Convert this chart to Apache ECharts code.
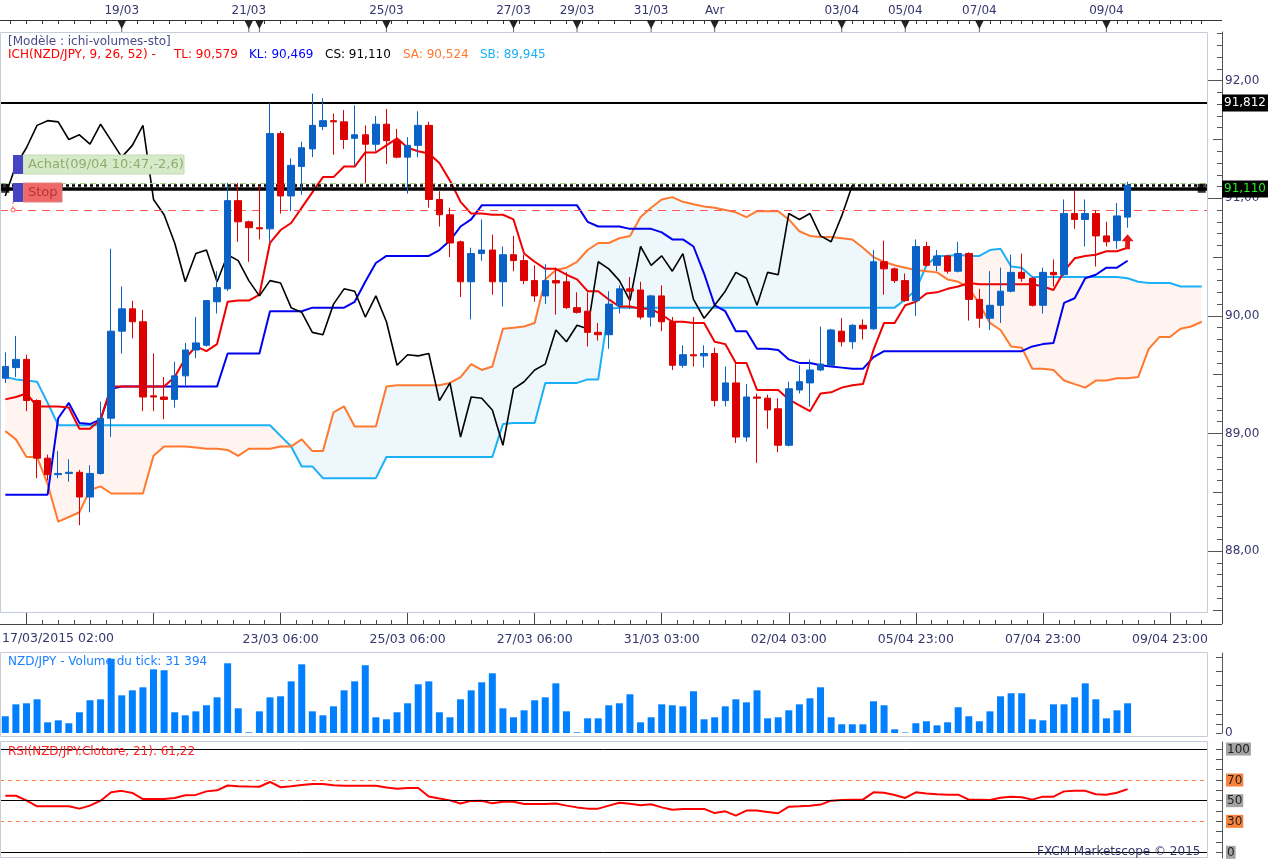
<!DOCTYPE html>
<html><head><meta charset="utf-8">
<script src="https://cdn.jsdelivr.net/npm/echarts@6/dist/echarts.min.js"></script>
<style>html,body{margin:0;padding:0;background:#fff}#c{width:1279px;height:860px}</style>
</head><body><div id="c"></div><script>
// ---- data (4H candles, NZD/JPY) ----
const OPEN=[89.47,89.56,89.63,89.28,88.79,88.65,88.66,88.67,88.46,88.66,
89.13,89.87,90.06,89.95,89.32,89.31,89.29,89.49,89.71,89.75,
90.12,90.23,90.98,90.80,90.75,90.74,91.55,91.02,91.27,91.42,
91.61,91.66,91.65,91.51,91.54,91.46,91.63,91.49,91.35,91.45,
91.62,90.99,90.86,90.63,90.29,90.53,90.56,90.29,90.52,90.47,
90.30,90.17,90.30,90.29,90.07,90.04,89.86,89.84,90.09,90.23,
90.22,89.99,90.17,89.95,89.58,89.67,89.66,89.68,89.28,89.43,
88.97,89.31,89.30,89.21,88.90,89.37,89.43,89.54,89.58,89.87,
89.78,89.92,89.89,90.46,90.40,90.30,90.13,90.59,90.43,90.51,
90.38,90.53,90.14,89.98,90.09,90.21,90.37,90.32,90.09,90.37,
90.35,90.87,90.82,90.87,90.68,90.64,90.84];
const HIGH=[89.69,89.83,89.67,89.29,88.82,88.85,88.78,88.69,88.73,89.27,
90.57,90.25,90.13,90.05,89.68,89.48,89.61,89.77,89.99,90.13,
90.38,91.13,91.13,90.81,91.11,91.81,91.57,91.34,91.48,91.89,
91.85,91.72,91.75,91.79,91.62,91.70,91.76,91.59,91.52,91.74,
91.65,91.06,90.92,90.64,90.58,90.82,90.69,90.59,90.68,90.52,
90.43,90.44,90.41,90.37,90.20,90.20,89.94,90.21,90.26,90.33,
90.29,90.18,90.26,89.99,89.75,89.99,89.75,89.73,89.57,89.60,
89.42,89.34,89.33,89.30,89.44,89.58,89.63,89.91,89.89,89.98,
89.93,89.97,90.56,90.64,90.41,90.36,90.65,90.63,90.56,90.52,
90.63,90.54,90.23,90.38,90.41,90.52,90.53,90.33,90.41,90.48,
90.99,91.07,90.99,90.90,90.80,90.96,91.14];
const LOW=[89.43,89.48,89.19,88.62,88.60,88.62,88.59,88.22,88.33,88.65,
88.97,89.68,89.81,89.19,89.19,89.12,89.22,89.41,89.64,89.74,
90.02,90.21,90.63,90.46,90.65,90.63,90.87,90.89,91.03,91.35,
91.58,91.37,91.42,91.28,91.13,91.40,91.29,91.34,91.04,91.35,
90.92,90.76,90.50,90.16,89.97,90.47,90.18,90.08,90.38,90.27,
90.12,90.10,90.01,90.06,90.02,89.74,89.79,89.72,90.02,90.06,
89.97,89.91,89.87,89.54,89.56,89.57,89.56,89.23,89.23,88.92,
88.93,88.75,89.04,88.84,88.89,89.34,89.23,89.53,89.57,89.74,
89.72,89.80,89.88,90.18,90.28,90.12,90.00,90.42,90.38,90.36,
90.37,89.96,89.90,89.88,89.94,90.20,90.29,90.08,90.02,90.25,
90.34,90.74,90.59,90.42,90.59,90.57,90.75];
const CLOSE=[89.57,89.63,89.28,88.79,88.65,88.66,88.67,88.46,88.66,89.13,
89.87,90.06,89.95,89.31,89.31,89.29,89.49,89.71,89.77,90.13,
90.24,90.98,90.80,90.75,90.74,91.55,91.02,91.28,91.43,91.62,
91.66,91.65,91.50,91.54,91.46,91.63,91.49,91.35,91.45,91.62,
90.99,90.86,90.62,90.29,90.53,90.56,90.29,90.52,90.47,90.30,
90.17,90.30,90.28,90.07,90.03,89.86,89.84,90.10,90.23,90.21,
89.99,90.17,89.95,89.58,89.67,89.66,89.68,89.28,89.43,88.97,
89.31,89.30,89.20,88.90,89.38,89.44,89.54,89.59,89.88,89.78,
89.92,89.89,90.46,90.40,90.30,90.13,90.59,90.43,90.51,90.38,
90.53,90.14,89.98,90.09,90.21,90.37,90.32,90.09,90.37,90.35,
90.87,90.82,90.87,90.68,90.63,90.85,91.11];
// Ichimoku lines
const TL=[89.29,89.31,89.34,89.23,89.23,89.23,89.22,89.04,89.04,89.12,
89.40,89.40,89.40,89.40,89.40,89.40,89.48,89.64,89.74,89.70,
89.76,90.12,90.13,90.13,90.18,90.62,90.73,90.79,90.92,91.05,
91.18,91.18,91.27,91.27,91.39,91.39,91.45,91.51,91.43,91.40,
91.38,91.30,91.15,90.97,90.87,90.87,90.86,90.86,90.82,90.53,
90.46,90.40,90.40,90.35,90.31,90.21,90.21,90.14,90.08,90.08,
90.06,90.06,90.01,89.95,89.95,89.94,89.94,89.78,89.76,89.60,
89.60,89.37,89.37,89.37,89.29,89.24,89.19,89.34,89.35,89.39,
89.41,89.42,89.71,89.94,89.94,90.09,90.12,90.19,90.20,90.23,
90.25,90.28,90.27,90.27,90.27,90.27,90.27,90.27,90.25,90.22,
90.38,90.49,90.51,90.52,90.55,90.55,90.579];
const KL=[88.48,88.48,88.48,88.48,88.48,89.13,89.26,89.09,89.08,89.12,
89.38,89.40,89.40,89.40,89.40,89.40,89.40,89.40,89.40,89.40,
89.40,89.68,89.68,89.68,89.68,90.04,90.04,90.04,90.04,90.07,
90.07,90.07,90.07,90.12,90.29,90.45,90.51,90.51,90.51,90.51,
90.51,90.56,90.64,90.76,90.82,90.94,90.94,90.94,90.94,90.94,
90.94,90.94,90.94,90.94,90.94,90.80,90.76,90.76,90.76,90.74,
90.74,90.74,90.71,90.65,90.65,90.59,90.36,90.09,90.04,89.87,
89.87,89.72,89.72,89.71,89.63,89.60,89.60,89.58,89.57,89.56,
89.55,89.55,89.65,89.70,89.70,89.70,89.70,89.70,89.70,89.70,
89.70,89.70,89.70,89.70,89.70,89.70,89.70,89.74,89.76,89.77,
90.11,90.15,90.32,90.35,90.41,90.41,90.469];
const CS=[91.02,91.28,91.43,91.62,91.66,91.65,91.50,91.54,91.46,91.63,
91.49,91.35,91.45,91.62,90.99,90.86,90.62,90.29,90.53,90.56,
90.29,90.52,90.47,90.30,90.17,90.30,90.28,90.07,90.03,89.86,
89.84,90.10,90.23,90.21,89.99,90.17,89.95,89.58,89.67,89.66,
89.68,89.28,89.43,88.97,89.31,89.30,89.20,88.90,89.38,89.44,
89.54,89.59,89.88,89.78,89.92,89.89,90.46,90.40,90.30,90.13,
90.59,90.43,90.51,90.38,90.53,90.14,89.98,90.09,90.21,90.37,
90.32,90.09,90.37,90.35,90.87,90.82,90.87,90.68,90.63,90.85,
91.11];
const SA=[89.02,88.95,88.80,88.80,88.57,88.25,88.29,88.33,88.52,88.55,
88.49,88.49,88.49,88.49,88.81,88.89,88.89,88.89,88.88,88.87,
88.87,88.86,88.81,88.87,88.87,88.87,88.89,88.89,88.95,88.85,
88.85,89.18,89.23,89.06,89.06,89.06,89.40,89.41,89.41,89.41,
89.41,89.41,89.43,89.48,89.59,89.54,89.57,89.89,89.90,89.91,
89.94,90.31,90.39,90.41,90.46,90.56,90.62,90.62,90.66,90.68,
90.84,90.92,90.99,91.01,90.97,90.95,90.93,90.92,90.90,90.88,
90.84,90.89,90.89,90.89,90.82,90.72,90.68,90.67,90.67,90.66,
90.65,90.58,90.50,90.46,90.43,90.41,90.39,90.38,90.37,90.31,
90.29,90.24,90.10,89.94,89.88,89.74,89.73,89.55,89.55,89.54,
89.45,89.42,89.39,89.45,89.45,89.47,89.47,89.48,89.72,89.82,
89.82,89.89,89.91,89.95];
const SB=[89.48,89.46,89.45,89.44,89.26,89.07,89.07,89.07,89.07,89.07,
89.07,89.07,89.07,89.07,89.07,89.07,89.07,89.07,89.07,89.07,
89.07,89.07,89.07,89.07,89.07,89.07,88.98,88.89,88.72,88.72,
88.62,88.62,88.62,88.62,88.62,88.62,88.80,88.80,88.80,88.80,
88.80,88.80,88.80,88.80,88.80,88.80,88.80,89.08,89.09,89.09,
89.09,89.43,89.43,89.43,89.43,89.46,89.46,90.06,90.07,90.07,
90.07,90.07,90.07,90.07,90.07,90.07,90.07,90.07,90.07,90.07,
90.07,90.07,90.07,90.07,90.07,90.07,90.07,90.07,90.07,90.07,
90.07,90.07,90.07,90.07,90.07,90.14,90.22,90.43,90.51,90.51,
90.52,90.51,90.51,90.56,90.57,90.42,90.41,90.33,90.33,90.33,
90.33,90.33,90.33,90.33,90.33,90.33,90.32,90.29,90.28,90.28,
90.28,90.25,90.25,90.25];
const VOLUME=[17700,30300,31400,35600,11300,13400,10300,21900,34600,35600,
78500,39800,45100,48300,67300,66300,21900,18700,22900,29300,
37700,73700,26100,700,22900,37700,38800,54600,72600,22900,
18700,28200,45100,54600,71600,16600,14500,21900,31400,51500,
54600,21900,16600,35600,45100,53600,63100,26100,16600,24000,
34600,37700,52500,22900,700,15500,15500,29300,31400,40900,
11300,16600,30300,29300,28200,44100,14500,16600,28200,35600,
32400,45100,15500,16600,24000,30300,36700,48300,16600,9200,
9200,9200,33500,29300,3900,500,10300,12400,8100,11300,
27200,17700,12400,22900,38800,42000,42000,14500,13400,30300,
30300,37700,52500,35600,15500,24000,31394];
const RSI=[54.8,54.8,50.3,44.5,44.5,44.5,44.5,42.3,45.2,50.0,
58.1,59.5,57.5,51.6,51.6,51.6,52.6,55.2,55.6,59.0,
60.0,64.7,64.0,63.7,63.5,68.1,63.0,64.0,65.1,66.1,
66.1,65.0,64.5,64.5,64.5,64.5,62.8,61.6,62.2,62.2,
54.0,52.0,50.3,47.2,49.8,50.0,47.4,49.0,49.0,46.7,
46.7,46.7,47.3,45.2,43.5,42.3,42.3,45.2,48.0,47.0,
45.5,46.5,43.5,41.3,42.0,42.0,42.0,38.0,39.7,35.5,
40.4,40.4,39.1,37.8,44.2,44.5,45.0,46.2,50.0,50.6,
51.0,51.0,58.1,57.7,55.5,52.6,58.1,57.0,56.1,55.8,
55.8,51.0,50.8,50.6,52.8,53.7,53.3,51.0,53.9,53.9,
59.0,59.7,59.5,56.2,55.8,57.7,61.22];
// horizontal levels
const LEVEL_HIGH=91.812, LEVEL_ENTRY=91.085, LEVEL_CS=91.113, LEVEL_GREEN=91.133, LEVEL_RED=90.898;
// tick labels
const TOP_LABELS={11:'19/03',23:'21/03',36:'25/03',48:'27/03',54:'29/03',61:'31/03',67:'Avr',79:'03/04',85:'05/04',92:'07/04',104:'09/04'};
const TOP_MARKS=[11,23,24,36,48,54,61,67,79,85,92,104];
const BOTTOM_LABELS={26:'23/03 06:00',38:'25/03 06:00',50:'27/03 06:00',62:'31/03 03:00',74:'02/04 03:00',86:'05/04 23:00',98:'07/04 23:00',110:'09/04 23:00'};
const BOTTOM_MAJOR=[2,14,26,38,50,62,74,86,98,110];
const PRICE_LABELS=[88,89,90,91,92];
const RSI_LABELS=[0,30,50,70,100];

// ---- build ----
const NSLOT=114;
const CATS=[]; for(let i=0;i<NSLOT;i++) CATS.push(String(i));
const CANDLES=OPEN.map((o,i)=>[o,CLOSE[i],LOW[i],HIGH[i]]);
const CLOUD_BASE=SA.map((a,i)=>Math.min(a,SB[i]));
const CLOUD_BULL=SA.map((a,i)=>a>SB[i]?+(a-SB[i]).toFixed(3):0);
const CLOUD_BEAR=SA.map((a,i)=>SB[i]>a?+(SB[i]-a).toFixed(3):0);
const topTicks=[]; for(let v=0.5;v<60;v+=1.5) topTicks.push(v); for(let v=61;v<=113;v++) topTicks.push(v);
const botMinor=[]; for(let v=2;v<=113;v+=1.5) botMinor.push(v);
const priceHalf=[87.5,88.5,89.5,90.5,91.5];
const priceTenth=[]; for(let k=875;k<=924;k++) priceTenth.push(k/10);
const rsiTicks=[0,10,20,30,40,50,60,70,80,90,100];

const FONT='"DejaVu Sans", Verdana, sans-serif';
const NAVY='#36366e';
const chart=echarts.init(document.getElementById('c'));
const XMIN=-0.5, XMAX=NSLOT-0.5;
function decoX(extra){return Object.assign({type:'value',gridIndex:0,min:XMIN,max:XMAX,splitLine:{show:false},axisLine:{onZero:false}},extra);}
const noAxis={show:false};
chart.setOption({
  animation:false,
  backgroundColor:'#ffffff',
  textStyle:{fontFamily:FONT},
  grid:[
    {left:0,top:32,width:1207,height:580},
    {left:0,top:653,width:1207,height:80},
    {left:0,top:742,width:1207,height:116}
  ],
  xAxis:[
    {type:'category',gridIndex:0,data:CATS,boundaryGap:true,show:false},
    {type:'category',gridIndex:1,data:CATS,boundaryGap:true,show:false},
    {type:'category',gridIndex:2,data:CATS,boundaryGap:true,show:false},
    decoX({position:'top',offset:12,
      axisLine:{show:true,onZero:false,lineStyle:{color:'#333',width:1}},
      axisTick:{show:true,inside:true,length:4,customValues:topTicks,lineStyle:{color:'#333'}},
      axisLabel:{show:true,customValues:Object.keys(TOP_LABELS).map(Number),formatter:v=>TOP_LABELS[v]||'',color:NAVY,fontSize:12,margin:3}}),
    decoX({position:'bottom',offset:12,
      axisLine:{show:true,onZero:false,lineStyle:{color:'#444',width:1}},
      axisTick:{show:true,inside:true,length:12,customValues:BOTTOM_MAJOR,lineStyle:{color:'#444'}},
      axisLabel:{show:true,customValues:Object.keys(BOTTOM_LABELS).map(Number),formatter:v=>BOTTOM_LABELS[v]||'',color:NAVY,fontSize:12.5,margin:9}}),
    decoX({position:'bottom',offset:12,
      axisLine:{show:false,onZero:false},
      axisTick:{show:true,inside:true,length:4,customValues:botMinor,lineStyle:{color:'#444'}},
      axisLabel:{show:false}})
  ],
  yAxis:[
    {type:'value',gridIndex:0,position:'right',offset:15,min:87.482,max:92.414,scale:true,splitLine:{show:false},
      axisLine:{show:true,onZero:false,lineStyle:{color:'#555'}},
      axisTick:{show:true,inside:true,length:14,customValues:PRICE_LABELS,lineStyle:{color:'#555'}},
      axisLabel:{show:true,customValues:PRICE_LABELS,formatter:v=>v.toFixed(2).replace('.',','),color:NAVY,fontSize:12,margin:3}},
    {type:'value',gridIndex:0,position:'right',offset:15,min:87.482,max:92.414,scale:true,splitLine:{show:false},
      axisLine:{show:false,onZero:false},
      axisTick:{show:true,inside:true,length:9,customValues:priceHalf,lineStyle:{color:'#555'}},axisLabel:{show:false}},
    {type:'value',gridIndex:0,position:'right',offset:15,min:87.482,max:92.414,scale:true,splitLine:{show:false},
      axisLine:{show:false,onZero:false},
      axisTick:{show:true,inside:true,length:5,customValues:priceTenth,lineStyle:{color:'#555'}},axisLabel:{show:false}},
    {type:'value',gridIndex:1,position:'right',offset:15,min:0,max:84560,splitLine:{show:false},
      axisLine:{show:true,onZero:false,lineStyle:{color:'#555'}},
      axisTick:{show:true,inside:true,length:6,customValues:[0,9000,20000,35000,50000,65000,80000],lineStyle:{color:'#555'}},
      axisLabel:{show:true,customValues:[0],formatter:v=>String(v),color:NAVY,fontSize:12,margin:3}},
    {type:'value',gridIndex:2,position:'right',offset:15,min:-5.5,max:106.8,splitLine:{show:false},
      axisLine:{show:true,onZero:false,lineStyle:{color:'#555'}},
      axisTick:{show:true,inside:true,length:6,customValues:rsiTicks,lineStyle:{color:'#555'}},
      axisLabel:{show:true,customValues:RSI_LABELS,margin:4,fontSize:12,
        formatter:v=>((v===30||v===70)?'{o|'+v+'}':'{g|'+v+'}'),
        rich:{g:{backgroundColor:'#a3a3a3',color:'#222',padding:[1,1,0,1],fontSize:12},
              o:{backgroundColor:'#f7823c',color:'#222',padding:[1,1,0,1],fontSize:12}}}}
  ],
  series:[
    {type:'line',xAxisIndex:0,yAxisIndex:0,data:CLOUD_BASE,stack:'cloud',symbol:'none',silent:true,lineStyle:{opacity:0},z:1},
    {type:'line',xAxisIndex:0,yAxisIndex:0,data:CLOUD_BULL,stack:'cloud',symbol:'none',silent:true,lineStyle:{opacity:0},areaStyle:{color:'#eef7fc',opacity:1},z:1},
    {type:'line',xAxisIndex:0,yAxisIndex:0,data:CLOUD_BEAR,stack:'cloud',symbol:'none',silent:true,lineStyle:{opacity:0},areaStyle:{color:'#fff4f0',opacity:1},z:1},
    {name:'SB',type:'line',xAxisIndex:0,yAxisIndex:0,data:SB,symbol:'none',lineStyle:{color:'#1cb0f6',width:2},z:2},
    {name:'SA',type:'line',xAxisIndex:0,yAxisIndex:0,data:SA,symbol:'none',lineStyle:{color:'#ff7a30',width:2},z:2},
    {name:'KL',type:'line',xAxisIndex:0,yAxisIndex:0,data:KL,symbol:'none',lineStyle:{color:'#0000f0',width:2},z:3},
    {name:'TL',type:'line',xAxisIndex:0,yAxisIndex:0,data:TL,symbol:'none',lineStyle:{color:'#f00000',width:2},z:3},
    {name:'CS',type:'line',xAxisIndex:0,yAxisIndex:0,data:CS,symbol:'none',lineStyle:{color:'#000',width:1.6},z:3,
      markLine:{symbol:'none',silent:true,animation:false,
        data:[
          {yAxis:LEVEL_HIGH,lineStyle:{color:'#000',width:2,type:'solid'},
            label:{show:true,position:'end',distance:15,formatter:'91,812',color:'#fff',backgroundColor:'#000',padding:[3,2,2,2],fontSize:12}},
          {yAxis:LEVEL_GREEN,lineStyle:{color:'#a6cf88',width:1,type:[6,4]},label:{show:false}},
          {yAxis:LEVEL_CS,lineStyle:{color:'#000',width:2.5,type:[3,3]},label:{show:false}},
          {yAxis:LEVEL_ENTRY,lineStyle:{color:'#000',width:3.5,type:'solid'},
            label:{show:true,position:'end',distance:15,formatter:'91,110',color:'#22ee22',backgroundColor:'#000',padding:[3,2,2,2],fontSize:12}},
          {yAxis:LEVEL_RED,lineStyle:{color:'#ff5a5a',width:1,type:[8,6]},label:{show:false}}
        ]}},
    {type:'candlestick',xAxisIndex:0,yAxisIndex:0,data:CANDLES,barWidth:7,z:5,
      itemStyle:{color:'#0a62c6',color0:'#dc0000',borderColor:'#0a62c6',borderColor0:'#dc0000',borderWidth:1},
      markPoint:{silent:true,animation:false,label:{show:false},
        data:[{coord:[106,90.63],symbol:'path://M5,0L10,6L7,6L7,13L3,13L3,6L0,6Z',symbolSize:[12,15],itemStyle:{color:'#e01818'}}]}},
    {type:'scatter',xAxisIndex:0,yAxisIndex:0,data:[[0,LEVEL_ENTRY],[113,LEVEL_ENTRY]],symbol:'rect',symbolSize:[8,9],itemStyle:{color:'#000'},z:6,silent:true},
    {type:'bar',xAxisIndex:1,yAxisIndex:3,data:VOLUME,barWidth:7,itemStyle:{color:'#0080ff'},silent:true},
    {type:'line',xAxisIndex:2,yAxisIndex:4,data:RSI,symbol:'none',lineStyle:{color:'#ff0000',width:2},z:3,
      markLine:{symbol:'none',silent:true,animation:false,label:{show:false},
        data:[
          {yAxis:100,lineStyle:{color:'#000',width:1,type:'solid'}},
          {yAxis:70,lineStyle:{color:'#ff8040',width:1,type:[4,4]}},
          {yAxis:50,lineStyle:{color:'#000',width:1,type:'solid'}},
          {yAxis:30,lineStyle:{color:'#ff8040',width:1,type:[4,4]}},
          {yAxis:0,lineStyle:{color:'#000',width:1,type:'solid'}}
        ]}}
  ]
});

// ---- decorations ----
function txt(x,y,text,fill,size){return {type:'text',x:x,y:y,silent:true,z:100,style:{text:text,fill:fill,font:(size||12)+'px '+FONT,verticalAlign:'middle'}};}
function rect(x,y,w,h,fill,stroke){return {type:'rect',silent:true,z:90,shape:{x:x,y:y,width:w,height:h},style:{fill:fill||'none',stroke:stroke||null,lineWidth:1}};}
function line(x1,y1,x2,y2,stroke,dash){return {type:'line',silent:true,z:95,shape:{x1:x1,y1:y1,x2:x2,y2:y2},style:{stroke:stroke,lineWidth:1,lineDash:dash||null}};}
const G=[];
G.push(rect(0.5,32.5,1207,580,'none','#c5cdd8'));
G.push(rect(0.5,652.5,1207,84,'none','#c5cdd8'));
G.push(rect(0.5,741.5,1207,116,'none','#c5cdd8'));
G.push(line(1207,20.5,1222,20.5,'#333'));
G.push(line(1207,624.5,1222,624.5,'#444'));
G.push(line(1222.5,612,1222.5,624,'#444'));
TOP_MARKS.forEach(i=>{
  const px=chart.convertToPixel({xAxisIndex:0},i);
  G.push({type:'polygon',silent:true,z:96,shape:{points:[[px-4.5,20],[px+4.5,20],[px,29]]},style:{fill:'#222'}});
  G.push(line(px,28,px,32,'#666'));
});
G.push(txt(8,41.5,'[Modèle : ichi-volumes-sto]','#4a4a8a'));
G.push(txt(8,55,'ICH(NZD/JPY, 9, 26, 52) -','#ff0000'));
G.push(txt(174,55,'TL: 90,579','#ff0000'));
G.push(txt(249,55,'KL: 90,469','#0000ff'));
G.push(txt(325,55,'CS: 91,110','#000000'));
G.push(txt(403,55,'SA: 90,524','#ff7a30'));
G.push(txt(480,55,'SB: 89,945','#1cb0f6'));
G.push(txt(2,639,'17/03/2015 02:00',NAVY,12.5));
G.push(txt(8,661.5,'NZD/JPY - Volume du tick: 31 394','#1a80ff'));
G.push(txt(8,752,'RSI(NZD/JPY.Cloture, 21): 61,22','#ff2020'));
G.push(txt(1037,852,'FXCM Marketscope © 2015',NAVY));
// order labels
G.push(rect(23,155,161,19,'#d6e9c8','#c3dbb2'));
G.push(rect(13,155,10,19,'#4646c4',null));
G.push(txt(28,164.5,'Achat(09/04 10:47,-2,6)','#8fad6c',13));
G.push(rect(23,183,39,19,'#ee6a6a','#e08080'));
G.push(rect(13,183,10,19,'#4646c4',null));
G.push(txt(28,192.5,'Stop','#b83434',13));
G.push(line(13,202,13,210,'#ff5a5a',[2,2]));
G.push({type:'circle',silent:true,z:96,shape:{cx:13,cy:210,r:2},style:{fill:'#fff',stroke:'#ff5a5a',lineWidth:1}});
chart.setOption({graphic:G});
</script></body></html>
